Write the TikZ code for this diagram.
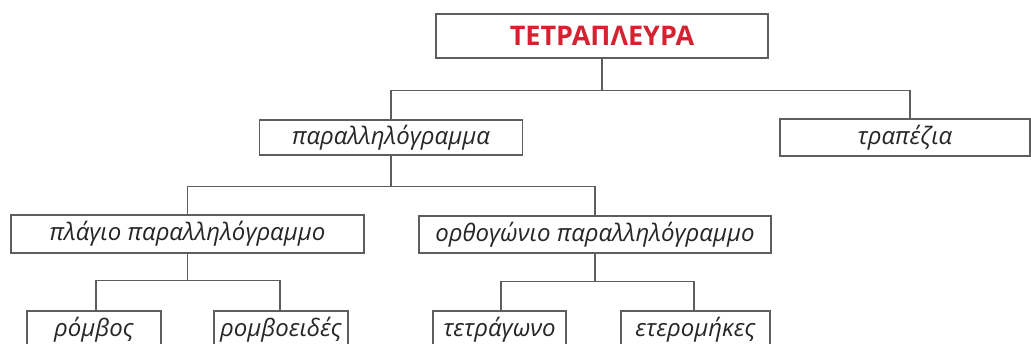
\documentclass[tikz,border=0pt]{standalone}
\usepackage{fontspec}
\setmainfont{Open Sans}
\definecolor{linegray}{HTML}{5E5E5E}
\definecolor{titlered}{HTML}{D42231}
\tikzset{
  box/.style={draw=linegray, line width=1.4pt, fill=white, inner sep=0pt, anchor=center, font=\fontsize{24}{28}\selectfont\itshape, text=black!85},
  topbox/.style={box, line width=2.4pt, font=\fontsize{27}{30}\selectfont\bfseries, text=titlered},
  conn/.style={draw=linegray, line width=1.3pt}
}
\begin{document}
\begin{tikzpicture}[x=1pt,y=-1pt]
\useasboundingbox (0,0) rectangle (1031,344);
\clip (0,0) rectangle (1031,344);
% nodes
\node[topbox, minimum width=332pt, minimum height=44pt] (top) at (602,36) {ΤΕΤΡΑΠΛΕΥΡΑ};
\node[box, minimum width=263pt, minimum height=35pt] (par) at (391,137.5) {παραλληλόγραμμα};
\node[box, minimum width=250pt, minimum height=37pt] (trap) at (905,137.5) {τραπέζια};
\node[box, minimum width=353pt, minimum height=38pt] (pla) at (187.5,234) {πλάγιο παραλληλόγραμμο};
\node[box, minimum width=352pt, minimum height=37pt] (ort) at (595,234.5) {ορθογώνιο παραλληλόγραμμο};
\node[box, minimum width=134pt, minimum height=38pt] (rom) at (94,330) {ρόμβος};
\node[box, minimum width=134pt, minimum height=38pt] (rmb) at (281,330) {ρομβοειδές};
\node[box, minimum width=133pt, minimum height=38pt] (tet) at (499.5,330) {τετράγωνο};
\node[box, minimum width=149pt, minimum height=38pt] (ete) at (695.5,330) {ετερομήκες};
% connectors
\path[conn] (top.south) -- ++(0,31) coordinate (j1);
\path[conn] (j1) -| (par.north);
\path[conn] (j1) -| ([xshift=5pt]trap.north);
\path[conn] (par.south) -- ++(0,30.5) coordinate (j2);
\path[conn] (j2) -| (pla.north);
\path[conn] (j2) -| (ort.north);
\path[conn] (pla.south) -- ++(0,27) coordinate (j3);
\path[conn] (j3) -| ([xshift=2pt]rom.north);
\path[conn] (j3) -| ([xshift=-1pt]rmb.north);
\path[conn] (ort.south) -- ++(0,27.5) coordinate (j4);
\path[conn] (j4) -| ([xshift=1.5pt]tet.north);
\path[conn] (j4) -| ([xshift=-1.5pt]ete.north);
\end{tikzpicture}
\end{document}
